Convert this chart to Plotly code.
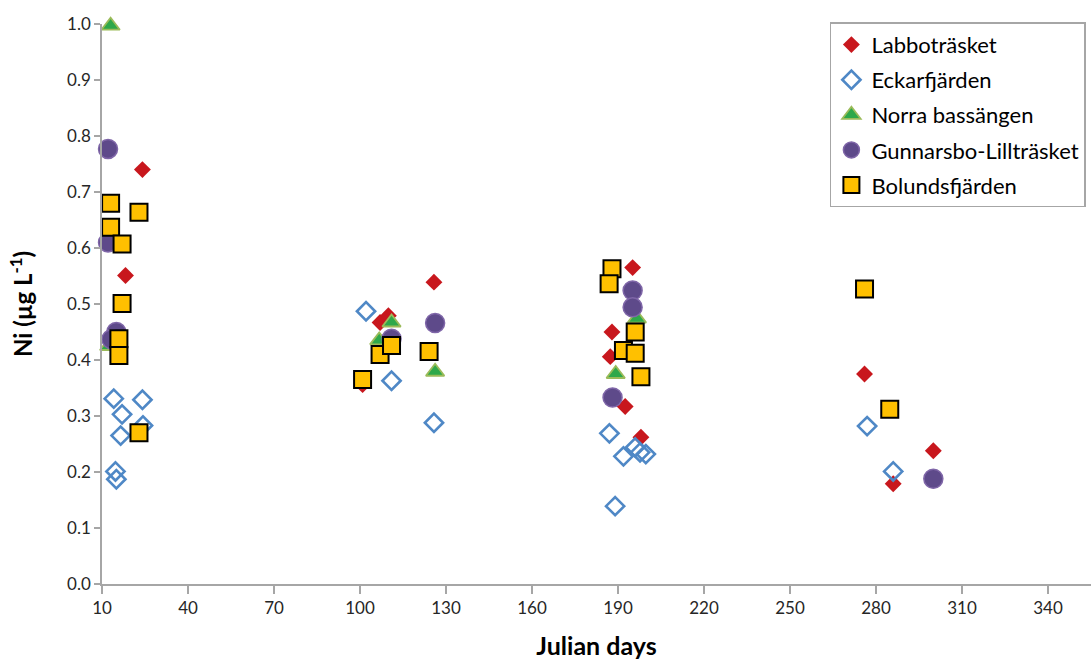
import plotly.graph_objects as go

# Labbotr\u00e4sket
lab_x = [24.1, 18.2, 125.8, 107.0, 109.9, 100.9, 195.1, 187.9, 187.3, 192.5, 198.0, 276.0, 286.0, 300.0]
lab_y = [0.740, 0.551, 0.539, 0.467, 0.479, 0.356, 0.565, 0.450, 0.406, 0.317, 0.262, 0.375, 0.179, 0.238]

# Eckarfj\u00e4rden
eck_x = [14.1, 24.1, 17.0, 24.3, 16.5, 14.7, 15.0, 102.1, 111.0, 125.8, 187.0, 191.9, 196.0, 197.7, 199.7, 189.0, 276.9, 286.0]
eck_y = [0.331, 0.329, 0.303, 0.283, 0.265, 0.201, 0.187, 0.487, 0.363, 0.288, 0.269, 0.228, 0.244, 0.235, 0.232, 0.139, 0.282, 0.201]

# Norra bass\u00e4ngen
nor_x = [13.0, 12.5, 111.0, 106.7, 126.2, 196.6, 189.2]
nor_y = [0.997, 0.425, 0.467, 0.435, 0.379, 0.474, 0.375]

# Gunnarsbo-Lilltr\u00e4sket
gun_x = [12.1, 12.1, 15.0, 13.3, 111.0, 126.2, 195.1, 195.1, 188.1, 300.0]
gun_y = [0.777, 0.610, 0.450, 0.437, 0.438, 0.466, 0.524, 0.494, 0.333, 0.188]

# Bolundsfj\u00e4rden
bol_x = [13.0, 22.9, 13.0, 17.0, 17.0, 15.9, 15.9, 22.9, 100.9, 107.0, 111.0, 124.1, 187.9, 186.9, 196.0, 191.9, 196.0, 198.0, 276.0, 284.8]
bol_y = [0.680, 0.664, 0.637, 0.607, 0.501, 0.438, 0.408, 0.270, 0.365, 0.410, 0.426, 0.415, 0.563, 0.536, 0.450, 0.417, 0.412, 0.370, 0.527, 0.312]

x_ticks = [10, 40, 70, 100, 130, 160, 190, 220, 250, 280, 310, 340]
y_ticks = [0.0, 0.1, 0.2, 0.3, 0.4, 0.5, 0.6, 0.7, 0.8, 0.9, 1.0]

FONT = "Lato"

fig = go.Figure()
fig.add_trace(go.Scatter(x=lab_x, y=lab_y, mode="markers", name="Labbotr\u00e4sket", legendgroup="a",
                         marker=dict(symbol="diamond", size=13, color="#C8171D", line=dict(width=0))))
fig.add_trace(go.Scatter(x=eck_x, y=eck_y, mode="markers", name="Eckarfj\u00e4rden", legendgroup="b",
                         marker=dict(symbol="diamond-open", size=14, color="#4F88C6", line=dict(width=2.6, color="#4F88C6"))))
fig.add_trace(go.Scatter(x=nor_x, y=nor_y, mode="markers", name="Norra bass\u00e4ngen", legendgroup="c",
                         marker=dict(symbol="triangle-up", size=16, color="#2EA84A", line=dict(width=1.8, color="#9BBB59"))))
fig.add_trace(go.Scatter(x=gun_x, y=gun_y, mode="markers", name="Gunnarsbo-Lilltr\u00e4sket", legendgroup="d",
                         marker=dict(symbol="circle", size=19, color="#5E4A8A", line=dict(width=1.5, color="#7F66A8"))))
fig.add_trace(go.Scatter(x=bol_x, y=bol_y, mode="markers", name="Bolundsfj\u00e4rden", legendgroup="e",
                         marker=dict(symbol="square", size=17, color="#FFC000", line=dict(width=2, color="#000000"))))

fig.update_traces(cliponaxis=False)

fig.update_layout(
    width=1091, height=660,
    margin=dict(l=102, r=0, t=24, b=76),
    paper_bgcolor="white", plot_bgcolor="white",
    font=dict(family=FONT, size=17, color="#262626"),
    showlegend=True,
    legend=dict(x=0.736, y=1.003, xanchor="left", yanchor="top",
                bordercolor="#A6A6A6", borderwidth=1.5, bgcolor="white",
                font=dict(family=FONT, size=22, color="#000000"),
                tracegroupgap=3.5, itemwidth=30),
    xaxis=dict(range=[10, 355], tickmode="array", tickvals=x_ticks, ticktext=[str(v) for v in x_ticks],
               showgrid=False, zeroline=False, showline=True, linecolor="#A6A6A6", linewidth=1.5,
               ticks="outside", ticklen=8, tickcolor="#A6A6A6", tickwidth=1.5,
               tickfont=dict(family=FONT, size=17, color="#262626"),
               title=dict(text="<b>Julian days</b>", font=dict(family=FONT, size=25, color="#000000"), standoff=20)),
    yaxis=dict(range=[0, 1.0], tickmode="array", tickvals=y_ticks, ticktext=[f"{v:.1f}" for v in y_ticks],
               showgrid=False, zeroline=False, showline=True, linecolor="#A6A6A6", linewidth=1.5,
               ticks="outside", ticklen=6, tickcolor="#A6A6A6", tickwidth=1.5,
               tickfont=dict(family=FONT, size=17, color="#262626"),
               title=dict(text="<b>Ni (\u00b5g L<sup>-1</sup>)</b>", font=dict(family=FONT, size=24, color="#000000"), standoff=28)),
)

fig.write_html("out.html", config={"displayModeBar": False},
               post_script="document.body.style.margin='0';document.body.style.overflow='hidden';")
